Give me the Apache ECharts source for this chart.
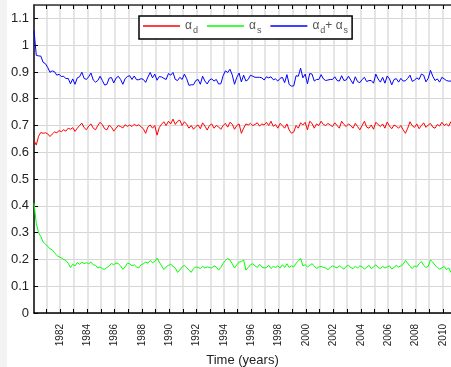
<!DOCTYPE html>
<html>
<head>
<meta charset="utf-8">
<script src="https://cdn.jsdelivr.net/npm/echarts@6/dist/echarts.min.js"></script>
<style>
html, body { margin: 0; padding: 0; background: #fff; }
#chart { width: 451px; height: 367px; }
</style>
</head>
<body>
<div id="chart"></div>
<script>
// bimonthly samples, starting 1980.1
var startYear = 1980.1;
var stepYears = 1 / 6;

var alphaD = [
    0.645, 0.627, 0.660, 0.674, 0.671, 0.673,
    0.669, 0.659, 0.668, 0.676, 0.673, 0.681,
    0.677, 0.684, 0.679, 0.690, 0.686, 0.692,
    0.678, 0.690, 0.700, 0.709, 0.692, 0.684,
    0.698, 0.706, 0.690, 0.684, 0.700, 0.712,
    0.703, 0.688, 0.684, 0.701, 0.694, 0.679,
    0.690, 0.700, 0.696, 0.691, 0.703, 0.697,
    0.702, 0.696, 0.705, 0.699, 0.703, 0.695,
    0.688, 0.671, 0.695, 0.702, 0.690, 0.700,
    0.664, 0.693, 0.705, 0.714, 0.700, 0.716,
    0.706, 0.724, 0.704, 0.716, 0.720, 0.700,
    0.714, 0.705, 0.690, 0.700, 0.686, 0.696,
    0.702, 0.688, 0.710, 0.698, 0.683, 0.700,
    0.706, 0.690, 0.700, 0.695, 0.686, 0.700,
    0.708, 0.694, 0.712, 0.705, 0.686, 0.700,
    0.706, 0.671, 0.690, 0.706, 0.702, 0.708,
    0.700, 0.704, 0.710, 0.698, 0.706, 0.702,
    0.712, 0.700, 0.716, 0.697, 0.704, 0.690,
    0.708, 0.700, 0.690, 0.706, 0.683, 0.671,
    0.676, 0.700, 0.690, 0.710, 0.702, 0.712,
    0.684, 0.716, 0.708, 0.690, 0.706, 0.700,
    0.716, 0.704, 0.700, 0.708, 0.702, 0.696,
    0.710, 0.700, 0.690, 0.716, 0.704, 0.696,
    0.706, 0.700, 0.690, 0.708, 0.696, 0.684,
    0.700, 0.716, 0.694, 0.690, 0.702, 0.686,
    0.712, 0.704, 0.696, 0.706, 0.690, 0.713,
    0.698, 0.688, 0.702, 0.697, 0.690, 0.700,
    0.684, 0.671, 0.690, 0.714, 0.699, 0.693,
    0.706, 0.688, 0.700, 0.710, 0.693, 0.702,
    0.708, 0.694, 0.690, 0.704, 0.698, 0.712,
    0.700, 0.706, 0.698, 0.715
];

var alphaS = [
    0.410, 0.335, 0.300, 0.285, 0.265, 0.258,
    0.248, 0.240, 0.236, 0.225, 0.215, 0.210,
    0.206, 0.200, 0.196, 0.186, 0.170, 0.182,
    0.176, 0.188, 0.182, 0.190, 0.184, 0.188,
    0.184, 0.190, 0.180, 0.178, 0.168, 0.172,
    0.165, 0.163, 0.170, 0.176, 0.185, 0.180,
    0.187, 0.184, 0.176, 0.163, 0.172, 0.186,
    0.184, 0.176, 0.180, 0.172, 0.168, 0.180,
    0.184, 0.190, 0.186, 0.196, 0.188, 0.192,
    0.205, 0.190, 0.176, 0.162, 0.172, 0.178,
    0.182, 0.174, 0.168, 0.152, 0.160, 0.172,
    0.178, 0.170, 0.160, 0.152, 0.166, 0.172,
    0.170, 0.166, 0.174, 0.168, 0.172, 0.170,
    0.168, 0.176, 0.172, 0.160, 0.170, 0.186,
    0.196, 0.204, 0.198, 0.184, 0.168, 0.180,
    0.190, 0.192, 0.198, 0.160, 0.170, 0.180,
    0.184, 0.176, 0.170, 0.182, 0.172, 0.168,
    0.170, 0.178, 0.166, 0.174, 0.170, 0.176,
    0.168, 0.180, 0.170, 0.184, 0.170, 0.176,
    0.172, 0.186, 0.194, 0.204, 0.176, 0.180,
    0.172, 0.178, 0.184, 0.176, 0.166, 0.172,
    0.174, 0.170, 0.168, 0.162, 0.170, 0.176,
    0.172, 0.168, 0.176, 0.170, 0.164, 0.174,
    0.178, 0.170, 0.166, 0.174, 0.168, 0.176,
    0.172, 0.164, 0.170, 0.178, 0.166, 0.172,
    0.180, 0.170, 0.166, 0.174, 0.168, 0.172,
    0.176, 0.164, 0.170, 0.178, 0.172, 0.176,
    0.182, 0.196, 0.186, 0.174, 0.166, 0.176,
    0.172, 0.184, 0.192, 0.178, 0.170, 0.174,
    0.198, 0.190, 0.178, 0.170, 0.164, 0.168,
    0.174, 0.162, 0.168, 0.151
];

var tickYears = [1981, 1982, 1983, 1984, 1985, 1986, 1987, 1988, 1989, 1990,
    1991, 1992, 1993, 1994, 1995, 1996, 1997, 1998, 1999, 2000,
    2001, 2002, 2003, 2004, 2005, 2006, 2007, 2008, 2009, 2010];
var labelYears = [1982, 1984, 1986, 1988, 1990, 1992, 1994, 1996, 1998, 2000,
    2002, 2004, 2006, 2008, 2010];

var seriesNames = ['ad', 'as', 'sum'];
var legendText = {
    ad: '{g|α}{b|d}',
    as: '{g|α}{b|s}',
    sum: '{g|α}{b|d}{g|+ α}{b|s}'
};

var dData = [], sData = [], sumData = [];
for (var i = 0; i < alphaD.length; i++) {
    var t = startYear + i * stepYears;
    dData.push([t, alphaD[i]]);
    sData.push([t, alphaS[i]]);
    sumData.push([t, alphaD[i] + alphaS[i]]);
}

var axisFont = 'Liberation Sans, Arial, sans-serif';

var option = {
    animation: false,
    backgroundColor: '#fff',
    graphic: [{
        type: 'rect',
        left: 0,
        top: 0,
        shape: { width: 7, height: 367 },
        style: { fill: '#f3f3f3' },
        z: -10
    }],
    grid: { left: 34, right: 0, top: 5, bottom: 54, outerBoundsMode: 'none' },
    legend: {
        data: seriesNames,
        left: 139,
        top: 16,
        padding: [4, 4, 4, 4],
        itemWidth: 37,
        itemHeight: 1.5,
        itemGap: 9,
        icon: 'rect',
        borderColor: '#000',
        borderWidth: 1.5,
        backgroundColor: '#fff',
        formatter: function (name) { return legendText[name]; },
        textStyle: {
            fontFamily: axisFont,
            rich: {
                g: { fontSize: 12, color: '#555', fontFamily: axisFont },
                b: { fontSize: 9, color: '#555', fontFamily: axisFont, padding: [9, 0, 0, 1] }
            }
        }
    },
    xAxis: [{
        type: 'value',
        position: 'bottom',
        min: startYear,
        max: 2010.6,
        name: 'Time (years)',
        nameLocation: 'middle',
        nameGap: 40,
        nameTextStyle: { fontSize: 13, color: '#222', fontFamily: axisFont },
        axisLine: { lineStyle: { color: '#000', width: 1.5 } },
        axisTick: { inside: true, length: 4, lineStyle: { color: '#000' }, customValues: tickYears },
        axisLabel: {
            rotate: 90,
            fontSize: 10,
            color: '#222',
            fontFamily: axisFont,
            margin: 11,
            customValues: labelYears,
            formatter: function (v) { return String(Math.round(v)); }
        },
        splitLine: { show: true, lineStyle: { color: '#dcdcdc', width: 1.5 } }
    }, {
        type: 'value',
        position: 'top',
        min: startYear,
        max: 2010.6,
        axisLine: { lineStyle: { color: '#333', width: 1.5 } },
        axisTick: { inside: true, length: 4, lineStyle: { color: '#000' }, customValues: tickYears },
        axisLabel: { show: false },
        splitLine: { show: false }
    }],
    yAxis: {
        type: 'value',
        min: 0,
        max: 1.15,
        interval: 0.1,
        axisLine: { show: true, lineStyle: { color: '#000', width: 1.5 } },
        axisTick: { show: true, inside: true, length: 4, lineStyle: { color: '#000' } },
        axisLabel: {
            fontSize: 13,
            color: '#222',
            fontFamily: axisFont,
            margin: 5,
            showMaxLabel: false,
            formatter: function (v) { return +v.toFixed(2) + ''; }
        },
        splitLine: { show: true, lineStyle: { color: '#d6d6d6', width: 1 } }
    },
    series: [{
        name: 'ad',
        type: 'line',
        data: dData,
        showSymbol: false,
        color: '#ff0000',
        lineStyle: { width: 1 }
    }, {
        name: 'as',
        type: 'line',
        data: sData,
        showSymbol: false,
        color: '#00ff00',
        lineStyle: { width: 1 }
    }, {
        name: 'sum',
        type: 'line',
        data: sumData,
        showSymbol: false,
        color: '#0000ff',
        lineStyle: { width: 1 }
    }]
};

var myChart = echarts.init(document.getElementById('chart'));
myChart.setOption(option);
</script>
</body>
</html>
